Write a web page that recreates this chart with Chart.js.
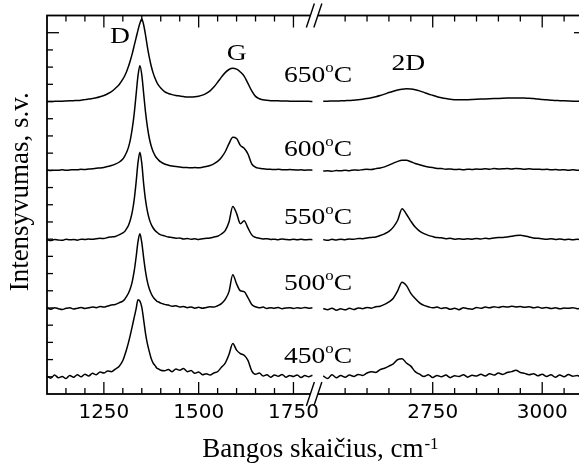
<!DOCTYPE html>
<html>
<head>
<meta charset="utf-8">
<title>Ramano spektrai</title>
<script src="https://cdn.jsdelivr.net/npm/chart.js@4.4.0/dist/chart.umd.min.js"></script>
<style>
  html, body { margin: 0; padding: 0; background: #fff; overflow: hidden; }
  canvas { display: block; }
</style>
</head>
<body>
<canvas id="raman" width="600" height="472"></canvas>
<script>
// wavenumber grid (cm-1), left part of the broken axis
const waveL = [
  1100, 1110, 1120, 1130, 1140, 1150, 1160, 1170, 1180, 1190,
  1200, 1210, 1220, 1230, 1240, 1250, 1260, 1270, 1280, 1290,
  1300, 1305, 1310, 1315, 1320, 1325, 1330, 1335, 1340, 1345, 1350,
  1355, 1360, 1365, 1370, 1375, 1380, 1385, 1390, 1395, 1400,
  1410, 1420, 1430, 1440, 1450, 1460, 1470, 1480, 1490, 1500,
  1510, 1520, 1530, 1540, 1550, 1560, 1570, 1580, 1590, 1600,
  1610, 1620, 1630, 1640, 1650, 1660, 1670, 1680, 1690, 1700,
  1710, 1720, 1730, 1740, 1750, 1760, 1770, 1780, 1790, 1800
];
// right part of the broken axis
const waveR = [
  2500, 2510, 2520, 2530, 2540, 2550, 2560, 2570, 2580, 2590,
  2600, 2610, 2620, 2630, 2640, 2650, 2660, 2670, 2680, 2690,
  2700, 2710, 2720, 2730, 2740, 2750, 2760, 2770, 2780, 2790,
  2800, 2810, 2820, 2830, 2840, 2850, 2860, 2870, 2880, 2890,
  2900, 2910, 2920, 2930, 2940, 2950, 2960, 2970, 2980, 2990,
  3000, 3010, 3020, 3030, 3040, 3050, 3060, 3070, 3080, 3090,
  3100
];

const temps = ['650', '600', '550', '500', '450'];
const offsets = [16, 12, 7.95, 3.95, 0];   // vertical shift of each spectrum

// intensities (a.u.)
const l650 = [
  0.00, 0.00, 0.01, 0.02, 0.02, 0.03, 0.04, 0.05, 0.06, 0.08,
  0.11, 0.14, 0.18, 0.22, 0.28, 0.35, 0.45, 0.58, 0.76, 0.98,
  1.30, 1.50, 1.75, 2.05, 2.40, 2.80, 3.25, 3.70, 4.15, 4.55, 4.80,
  4.45, 3.85, 3.15, 2.55, 2.05, 1.65, 1.35, 1.10, 0.92, 0.78,
  0.58, 0.47, 0.40, 0.35, 0.32, 0.29, 0.27, 0.27, 0.28, 0.31,
  0.37, 0.47, 0.62, 0.84, 1.12, 1.42, 1.68, 1.86, 1.93, 1.88,
  1.72, 1.48, 1.05, 0.62, 0.30, 0.16, 0.10, 0.07, 0.05, 0.04,
  0.04, 0.03, 0.03, 0.02, 0.02, 0.02, 0.01, 0.01, 0.01, 0.00
];
const l600 = [
  0.02, -0.01, 0.01, 0.00, 0.03, 0.01, 0.02, 0.04, 0.03, 0.06,
  0.05, 0.08, 0.09, 0.12, 0.14, 0.17, 0.22, 0.28, 0.36, 0.47,
  0.66, 0.83, 1.05, 1.35, 1.80, 2.45, 3.30, 4.40, 5.50, 6.08, 5.55,
  4.45, 3.35, 2.50, 1.85, 1.40, 1.08, 0.86, 0.70, 0.58, 0.49,
  0.37, 0.30, 0.25, 0.22, 0.20, 0.17, 0.16, 0.15, 0.16, 0.15,
  0.18, 0.22, 0.28, 0.38, 0.52, 0.75, 1.08, 1.55, 1.92, 1.85,
  1.45, 1.28, 0.95, 0.38, 0.18, 0.12, 0.09, 0.07, 0.06, 0.05,
  0.06, 0.04, 0.03, 0.05, 0.03, 0.02, 0.03, 0.01, 0.02, 0.01
];
const l550 = [
  0.02, -0.03, 0.03, 0.00, -0.02, 0.04, 0.01, 0.03, -0.01, 0.05,
  0.03, 0.06, 0.04, 0.08, 0.10, 0.09, 0.15, 0.18, 0.21, 0.30,
  0.42, 0.50, 0.66, 0.86, 1.18, 1.65, 2.35, 3.35, 4.50, 5.10, 4.45,
  3.25, 2.30, 1.65, 1.20, 0.90, 0.70, 0.55, 0.45, 0.36, 0.30,
  0.24, 0.17, 0.15, 0.10, 0.12, 0.06, 0.09, 0.04, 0.07, 0.03,
  0.08, 0.10, 0.12, 0.17, 0.22, 0.35, 0.55, 1.05, 1.95, 1.55,
  0.95, 1.12, 0.70, 0.30, 0.15, 0.10, 0.06, 0.08, 0.03, 0.05,
  0.02, 0.06, 0.03, 0.01, 0.04, 0.02, 0.05, 0.01, 0.03, 0.02
];
const l500 = [
  0.05, -0.02, 0.06, 0.01, -0.04, 0.03, 0.07, -0.01, 0.04, 0.08,
  0.02, 0.06, 0.11, 0.07, 0.13, 0.10, 0.16, 0.22, 0.25, 0.35,
  0.45, 0.56, 0.72, 0.92, 1.20, 1.60, 2.20, 3.00, 3.90, 4.36, 3.85,
  2.95, 2.15, 1.55, 1.15, 0.88, 0.68, 0.55, 0.44, 0.40, 0.33,
  0.26, 0.22, 0.15, 0.18, 0.10, 0.14, 0.07, 0.11, 0.04, 0.09,
  0.03, 0.08, 0.12, 0.10, 0.18, 0.30, 0.55, 1.00, 1.98, 1.45,
  1.05, 1.00, 0.65, 0.25, 0.12, 0.06, 0.10, 0.02, 0.07, 0.04,
  0.08, 0.01, 0.05, 0.07, 0.02, 0.06, 0.03, 0.08, 0.04, 0.06
];
const l450 = [
  0.05, -0.08, 0.10, -0.05, 0.02, -0.10, 0.08, -0.03, 0.12, 0.00,
  0.15, 0.05, 0.20, 0.12, 0.28, 0.22, 0.34, 0.30, 0.45, 0.60,
  0.95, 1.25, 1.60, 2.00, 2.45, 2.95, 3.45, 3.95, 4.48, 4.40, 4.05,
  3.30, 2.50, 1.90, 1.45, 1.05, 0.80, 0.65, 0.50, 0.45, 0.38,
  0.35, 0.42, 0.30, 0.45, 0.38, 0.48, 0.30, 0.36, 0.20, 0.28,
  0.12, 0.18, 0.10, 0.22, 0.30, 0.55, 0.80, 1.30, 1.93, 1.55,
  1.35, 1.25, 0.95, 0.35, 0.15, 0.22, 0.05, 0.12, -0.02, 0.10,
  0.03, 0.14, -0.03, 0.08, 0.02, 0.11, -0.04, 0.07, 0.00, 0.09
];

const r650 = [
  0.02, 0.02, 0.03, 0.03, 0.04, 0.05, 0.06, 0.08, 0.10, 0.13,
  0.17, 0.22, 0.28, 0.35, 0.43, 0.52, 0.60, 0.67, 0.72, 0.74,
  0.73, 0.69, 0.62, 0.53, 0.44, 0.36, 0.28, 0.22, 0.17, 0.13,
  0.11, 0.10, 0.10, 0.11, 0.12, 0.13, 0.14, 0.15, 0.16, 0.17,
  0.18, 0.19, 0.20, 0.21, 0.21, 0.21, 0.20, 0.19, 0.17, 0.15,
  0.12, 0.10, 0.08, 0.06, 0.05, 0.04, 0.03, 0.02, 0.02, 0.01,
  0.01
];
const r600 = [
  -0.04, -0.02, -0.05, -0.01, -0.03, 0.00, -0.02, 0.02, 0.01, 0.04,
  0.06, 0.05, 0.10, 0.14, 0.20, 0.30, 0.42, 0.52, 0.58, 0.58,
  0.50, 0.40, 0.32, 0.25, 0.20, 0.16, 0.11, 0.10, 0.07, 0.08,
  0.05, 0.06, 0.04, 0.07, 0.05, 0.08, 0.06, 0.09, 0.07, 0.10,
  0.08, 0.09, 0.11, 0.08, 0.10, 0.09, 0.07, 0.09, 0.06, 0.07,
  0.05, 0.06, 0.03, 0.05, 0.02, 0.04, 0.01, 0.03, 0.00, 0.02,
  0.01
];
const r550 = [
  0.03, -0.02, 0.04, 0.00, 0.05, 0.02, 0.06, 0.04, 0.09, 0.08,
  0.12, 0.15, 0.18, 0.26, 0.36, 0.50, 0.75, 1.15, 1.82, 1.50,
  1.10, 0.75, 0.52, 0.37, 0.27, 0.20, 0.14, 0.13, 0.08, 0.10,
  0.05, 0.08, 0.04, 0.07, 0.05, 0.09, 0.06, 0.10, 0.08, 0.12,
  0.14, 0.15, 0.18, 0.22, 0.26, 0.28, 0.24, 0.18, 0.12, 0.10,
  0.07, 0.05, 0.08, 0.03, 0.06, 0.02, 0.05, 0.01, 0.04, 0.02,
  0.03
];
const r500 = [
  0.02, -0.05, 0.04, -0.08, 0.00, -0.06, 0.03, -0.04, 0.05, 0.01,
  0.08, 0.04, 0.12, 0.15, 0.26, 0.40, 0.62, 1.05, 1.55, 1.35,
  0.90, 0.60, 0.35, 0.20, 0.12, 0.06, 0.10, 0.02, 0.07, -0.03,
  0.04, -0.05, 0.06, 0.01, -0.02, 0.08, 0.03, 0.10, 0.06, 0.12,
  0.08, 0.14, 0.10, 0.15, 0.11, 0.13, 0.09, 0.12, 0.06, 0.10,
  0.04, 0.08, 0.02, 0.06, 0.00, 0.05, 0.03, 0.07, 0.01, 0.04,
  0.02
];
const r450 = [
  0.05, -0.10, 0.12, -0.05, 0.08, -0.02, 0.10, 0.02, 0.14, 0.08,
  0.22, 0.30, 0.25, 0.42, 0.50, 0.62, 0.75, 1.00, 1.05, 0.80,
  0.62, 0.30, 0.15, 0.02, 0.12, -0.04, 0.08, 0.00, 0.10, -0.05,
  0.06, 0.02, 0.12, -0.02, 0.09, 0.04, 0.15, 0.05, 0.18, 0.10,
  0.22, 0.14, 0.25, 0.30, 0.38, 0.25, 0.20, 0.12, 0.18, 0.06,
  0.15, 0.02, 0.12, -0.03, 0.10, 0.00, 0.14, 0.03, 0.08, -0.02,
  0.06
];

const leftSpectra = [l650, l600, l550, l500, l450];
const rightSpectra = [r650, r600, r550, r500, r450];

// axis ticks
const labelsL = [1250, 1500, 1750];
const labelsR = [2750, 3000];
const minorL = [1150, 1200, 1250, 1300, 1350, 1400, 1450, 1500, 1550, 1600, 1650, 1700, 1750];
const minorR = [2550, 2600, 2650, 2700, 2750, 2800, 2850, 2900, 2950, 3000, 3050, 3100];
const yTicks = [0, 1, 2, 3, 4, 5, 6, 7, 8, 9, 10, 11, 12, 13, 14, 15, 16, 17, 18, 19, 20];
const yMajor = [20];

// text anchors in data units
const bandLabels = [
  { text: 'D', axis: 'xL', x: 1266, y: 19.38 },
  { text: 'G', axis: 'xL', x: 1574, y: 18.41 },
  { text: '2D', axis: 'xR', x: 2656, y: 17.83 }
];
const tempLabelX = 1725;
const tempLabelY = [17.16, 12.86, 8.91, 5.02, 0.83];

const serif = '"Liberation Serif", "Times New Roman", serif';

const datasets = [];
temps.forEach((t, i) => {
  const style = {
    borderColor: '#000',
    borderWidth: 1.5,
    pointRadius: 0,
    fill: false,
    cubicInterpolationMode: 'monotone',
    yAxisID: 'y'
  };
  datasets.push(Object.assign({
    label: t + ' °C',
    xAxisID: 'xL',
    data: waveL.map((w, k) => ({ x: w, y: leftSpectra[i][k] + offsets[i] }))
  }, style));
  datasets.push(Object.assign({
    label: t + ' °C (2D)',
    xAxisID: 'xR',
    data: waveR.map((w, k) => ({ x: w, y: rightSpectra[i][k] + offsets[i] }))
  }, style));
});

function line(ctx, x1, y1, x2, y2) {
  ctx.beginPath();
  ctx.moveTo(x1, y1);
  ctx.lineTo(x2, y2);
  ctx.stroke();
}

// text made of pieces, some raised (superscripts), slightly widened like the original
function drawPieces(ctx, pieces, x, y, stretch) {
  ctx.save();
  ctx.translate(x, y);
  ctx.scale(stretch, 1);
  let cx = 0;
  pieces.forEach(p => {
    ctx.font = p.size + 'px ' + serif;
    ctx.fillText(p.text, cx, -p.rise);
    cx += ctx.measureText(p.text).width + (p.gap || 0);
  });
  ctx.restore();
}

const framePlugin = {
  id: 'frame',
  afterDraw(chart) {
    const { ctx, chartArea: a, scales } = chart;
    const xL = scales.xL, xR = scales.xR, y = scales.y;
    ctx.save();
    ctx.strokeStyle = '#000';
    ctx.fillStyle = '#000';

    // frame
    ctx.lineWidth = 1.8;
    ctx.strokeRect(a.left, a.top, a.right - a.left, a.bottom - a.top);

    // x ticks, pointing inside, top and bottom
    ctx.lineWidth = 1.3;
    [[xL, minorL, labelsL], [xR, minorR, labelsR]].forEach(([s, minor, major]) => {
      minor.forEach(v => {
        const px = s.getPixelForValue(v);
        const len = major.includes(v) ? 12 : 6;
        line(ctx, px, a.bottom, px, a.bottom - len);
        line(ctx, px, a.top, px, a.top + len);
      });
    });
    // y ticks, left and right
    yTicks.forEach(v => {
      const py = y.getPixelForValue(v);
      const len = yMajor.includes(v) ? 12 : 6;
      line(ctx, a.left, py, a.left + len, py);
      line(ctx, a.right, py, a.right - len, py);
    });

    // axis break marks
    const b = xL.right;
    const c1 = b - 8.5, c2 = b - 1;
    [a.top, a.bottom].forEach(ay => {
      ctx.fillStyle = '#fff';
      ctx.fillRect(c1, ay - 2, c2 - c1, 4);
      ctx.fillStyle = '#000';
      ctx.lineWidth = 1.4;
      line(ctx, c1 - 4, ay + 12, c1 + 4, ay - 12);
      line(ctx, c2 - 4, ay + 12, c2 + 4, ay - 12);
    });

    // band names
    ctx.textAlign = 'left';
    ctx.textBaseline = 'alphabetic';
    bandLabels.forEach(l => {
      const s = scales[l.axis];
      drawPieces(ctx, [{ text: l.text, size: 23, rise: 0 }],
        s.getPixelForValue(l.x), y.getPixelForValue(l.y), 1.2);
    });
    // temperatures
    temps.forEach((t, i) => {
      drawPieces(ctx, [
        { text: t, size: 23, rise: 0 },
        { text: 'o', size: 14, rise: 10 },
        { text: 'C', size: 23, rise: 0 }
      ], xL.getPixelForValue(tempLabelX), y.getPixelForValue(tempLabelY[i]), 1.2);
    });

    // x axis title with superscript
    const main = 'Bangos skaičius, cm';
    const sup = '-1';
    ctx.font = '27px ' + serif;
    const w1 = ctx.measureText(main).width;
    ctx.font = '17px ' + serif;
    const w2 = ctx.measureText(sup).width;
    const tx = b + 1 - (w1 + w2) / 2;
    const ty = a.bottom + 63;
    ctx.font = '27px ' + serif;
    ctx.fillText(main, tx, ty);
    ctx.font = '17px ' + serif;
    ctx.fillText(sup, tx + w1 + 1, ty - 8);

    // y axis title
    ctx.save();
    ctx.translate(a.left - 19, (a.top + a.bottom) / 2 - 13);
    ctx.rotate(-Math.PI / 2);
    ctx.textAlign = 'center';
    ctx.font = '27px ' + serif;
    ctx.fillText('Intensyvumas, s.v.', 0, 0);
    ctx.restore();

    ctx.restore();
  }
};

const hiddenGrid = { display: false, drawTicks: false };
const tickFont = { family: '"DejaVu Sans", Arial, sans-serif', size: 20 };

// the x axes must not widen the layout for their labels
function fitX(s) {
  s.height = 78;
  s.paddingLeft = 0;
  s.paddingRight = 0;
}

new Chart(document.getElementById('raman'), {
  type: 'line',
  data: { datasets: datasets },
  options: {
    responsive: false,
    devicePixelRatio: 1,
    animation: false,
    layout: { padding: { top: 15.5, right: 14, left: 0, bottom: 0 } },
    plugins: {
      legend: { display: false },
      tooltip: { enabled: false }
    },
    scales: {
      xL: {
        type: 'linear',
        position: 'bottom',
        stack: 'x',
        stackWeight: 271.7,
        min: 1100,
        max: 1817,
        grid: hiddenGrid,
        border: { display: false },
        ticks: {
          font: tickFont, color: '#000', padding: 7, maxRotation: 0, autoSkip: false,
          callback: v => String(v)
        },
        afterBuildTicks: s => { s.ticks = labelsL.map(v => ({ value: v })); },
        afterFit: fitX
      },
      xR: {
        type: 'linear',
        position: 'bottom',
        stack: 'x',
        stackWeight: 267,
        min: 2490,
        max: 3100,
        grid: hiddenGrid,
        border: { display: false },
        ticks: {
          font: tickFont, color: '#000', padding: 7, maxRotation: 0, autoSkip: false,
          callback: v => String(v)
        },
        afterBuildTicks: s => { s.ticks = labelsR.map(v => ({ value: v })); },
        afterFit: fitX
      },
      y: {
        type: 'linear',
        min: -1,
        max: 21,
        grid: hiddenGrid,
        border: { display: false },
        ticks: { display: false },
        afterFit: s => { s.width = 47; s.paddingTop = 0; s.paddingBottom = 0; }
      }
    }
  },
  plugins: [framePlugin]
});
</script>
</body>
</html>
